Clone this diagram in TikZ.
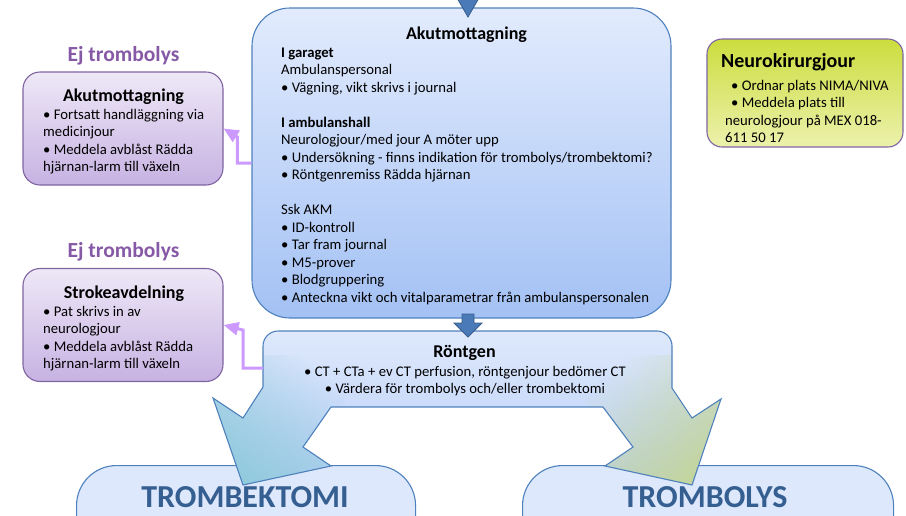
\documentclass[tikz,border=0pt]{standalone}
\usepackage{fontspec}
\setmainfont{Carlito}
\usetikzlibrary{arrows.meta, fadings, positioning}

\definecolor{akmtop}{RGB}{226,235,253}
\definecolor{akmbot}{RGB}{163,193,244}
\definecolor{akmline}{RGB}{79,129,189}
\definecolor{ejtop}{RGB}{238,232,247}
\definecolor{ejbot}{RGB}{199,178,226}
\definecolor{ejline}{RGB}{128,100,162}
\definecolor{ejhead}{RGB}{134,89,166}
\definecolor{ejconn}{RGB}{204,153,255}
\definecolor{nktop}{RGB}{203,221,62}
\definecolor{nkbot}{RGB}{236,241,172}
\definecolor{rtgtop}{RGB}{222,233,252}
\definecolor{rtgbot}{RGB}{184,205,247}
\definecolor{tealc}{RGB}{143,203,219}
\definecolor{greenc}{RGB}{196,214,152}
\definecolor{trfill}{RGB}{221,232,252}
\definecolor{trtext}{RGB}{54,95,145}
\definecolor{blockfill}{RGB}{74,122,184}
\definecolor{blockline}{RGB}{56,93,138}

\tikzfading[name=fadeup, top color=transparent!100, bottom color=transparent!0]

\tikzset{
    mainbox/.style={draw=akmline, line width=1.1pt, rounded corners=38pt,
        top color=akmtop, bottom color=akmbot, inner sep=0pt},
    ejbox/.style={draw=ejline, line width=1.1pt, rounded corners=17pt,
        top color=ejtop, bottom color=ejbot, inner sep=0pt,
        minimum width=200pt, minimum height=113pt},
    nkbox/.style={draw=ejline, line width=1.1pt, rounded corners=15pt,
        top color=nktop, bottom color=nkbot, inner sep=0pt,
        minimum width=196pt, minimum height=108pt},
    trombox/.style={draw=akmline, line width=1.1pt, rounded corners=40pt,
        fill=trfill, inner sep=0pt, anchor=north west},
    bodytext/.style={align=left, inner sep=0pt, anchor=north west,
        font=\fontsize{14.7}{17.5}\selectfont},
    headtext/.style={inner sep=0pt, anchor=base,
        font=\fontsize{18}{22}\selectfont\bfseries},
    ejtext/.style={inner sep=0pt, anchor=base, text=ejhead,
        font=\fontsize{21.5}{26}\selectfont\bfseries},
    tromtext/.style={inner sep=0pt, anchor=base, text=trtext,
        font=\fontsize{32}{38}\selectfont\bfseries},
    ejarrow/.style={draw=ejconn, line width=3pt,
        -{Triangle[length=15pt, width=13pt]}},
    blockarrow/.style={fill=blockfill, draw=blockline, line width=0.8pt}
}

\begin{document}
\begin{tikzpicture}[x=1pt, y=-1pt]
    \useasboundingbox (0,0) rectangle (906,515);
    \clip (0,0) rectangle (906,515);

    % bottom boxes
    \node[trombox, minimum width=339pt, minimum height=150pt] (tbx) at (76,465) {};
    \node[trombox, minimum width=371pt, minimum height=150pt] (tlx) at (522,465) {};
    \node[tromtext] (tbx-txt) at (245,507) {TROMBEKTOMI};
    \node[tromtext] (tlx-txt) at (705,507) {TROMBOLYS};

    % main box
    \node[mainbox, minimum width=419pt, minimum height=310pt] (akm) at (461.5,163) {};
    \filldraw[blockarrow] (457,-2) -- (479,-2) -- (468,17) -- cycle;
    \node[headtext] (akm-head) at (466.5,39) {Akutmottagning};
    \node[bodytext] (akm-txt) at (281,44.75) {\strut\textbf{I garaget}\\
        Ambulanspersonal\\
        • Vägning, vikt skrivs i journal\\[17.5pt]
        \textbf{I ambulanshall}\\
        Neurologjour/med jour A möter upp\\
        • Undersökning - finns indikation för trombolys/trombektomi?\\
        • Röntgenremiss Rädda hjärnan\\[17.5pt]
        Ssk AKM\\
        • ID-kontroll\\
        • Tar fram journal\\
        • M5-prover\\
        • Blodgruppering\\
        • Anteckna vikt och vitalparametrar från ambulanspersonalen};

    % rontgen with the two branches
    \shade[top color=rtgtop, bottom color=rtgbot] (263,387) [rounded corners=15pt] -- (263,331)
        -- (672,331) [sharp corners] -- (672,388) -- (692,418) -- (721,399)
        -- (692,485) -- (605,466) -- (633,447) -- (603,407) -- (331,407)
        -- (303,447) -- (331,466) -- (243,485) -- (213,398) -- (243,418) -- cycle;
    \path[save path=\rtgshape] (263,387) [rounded corners=15pt] -- (263,331)
        -- (672,331) [sharp corners] -- (672,388) -- (692,418) -- (721,399)
        -- (692,485) -- (605,466) -- (633,447) -- (603,407) -- (331,407)
        -- (303,447) -- (331,466) -- (243,485) -- (213,398) -- (243,418) -- cycle;
    \begin{scope}
        \clip[use path=\rtgshape];
        \fill[tealc, path fading=fadeup, fading angle=-45] (195,355) rectangle (345,490);
        \fill[greenc, path fading=fadeup, fading angle=45] (585,355) rectangle (735,490);
    \end{scope}
    \draw[draw=akmline, line width=1.1pt, use path=\rtgshape];
    \coordinate (rtg-w) at (263,368);
    \node[headtext] (rtg-head) at (464.5,357) {Röntgen};
    \node[bodytext, align=center, anchor=north] (rtg-txt) at (465,363.75)
        {\strut• CT + CTa + ev CT perfusion, röntgenjour bedömer CT\\
        • Värdera för trombolys och/eller trombektomi};
    \filldraw[blockarrow] (462,314) -- (474,314) -- (474,323) -- (482,323)
        -- (468,337) -- (454,323) -- (462,323) -- cycle;

    % ej trombolys
    \node[ejtext] (ej1) at (123.5,61) {Ej trombolys};
    \node[ejbox] (ejak) at (123,128.5) {};
    \node[headtext] (ejak-head) at (123.5,101.7) {Akutmottagning};
    \node[bodytext] (ejak-txt) at (43,106.75) {\strut• Fortsatt handläggning via\\
        medicinjour\\
        • Meddela avblåst Rädda\\
        hjärnan-larm till växeln};

    \node[ejtext] (ej2) at (123.5,257) {Ej trombolys};
    \node[ejbox] (ejst) at (123,325) {};
    \node[headtext] (ejst-head) at (124,298) {Strokeavdelning};
    \node[bodytext] (ejst-txt) at (43,303.75) {\strut• Pat skrivs in av\\
        neurologjour\\
        • Meddela avblåst Rädda\\
        hjärnan-larm till växeln};

    \draw[ejarrow] (akm.west) -- ++(-14,0) -- ++(0,-26) -- (ejak.east);
    \draw[ejarrow] (rtg-w) -- ++(-20,0) -- ++(0,-38) -- (ejst.east);

    % neurokirurgjour
    \node[nkbox] (nk) at (805,93) {};
    \node[headtext, anchor=base west, font=\fontsize{20}{24}\selectfont\bfseries]
        (nk-head) at (721,67) {Neurokirurgjour};
    \node[bodytext] (nk-txt) at (725,77.75) {\strut\hspace{6pt}• Ordnar plats NIMA/NIVA\\
        \hspace{6pt}• Meddela plats till\\
        neurologjour på MEX 018-\\
        611 50 17};
\end{tikzpicture}
\end{document}
